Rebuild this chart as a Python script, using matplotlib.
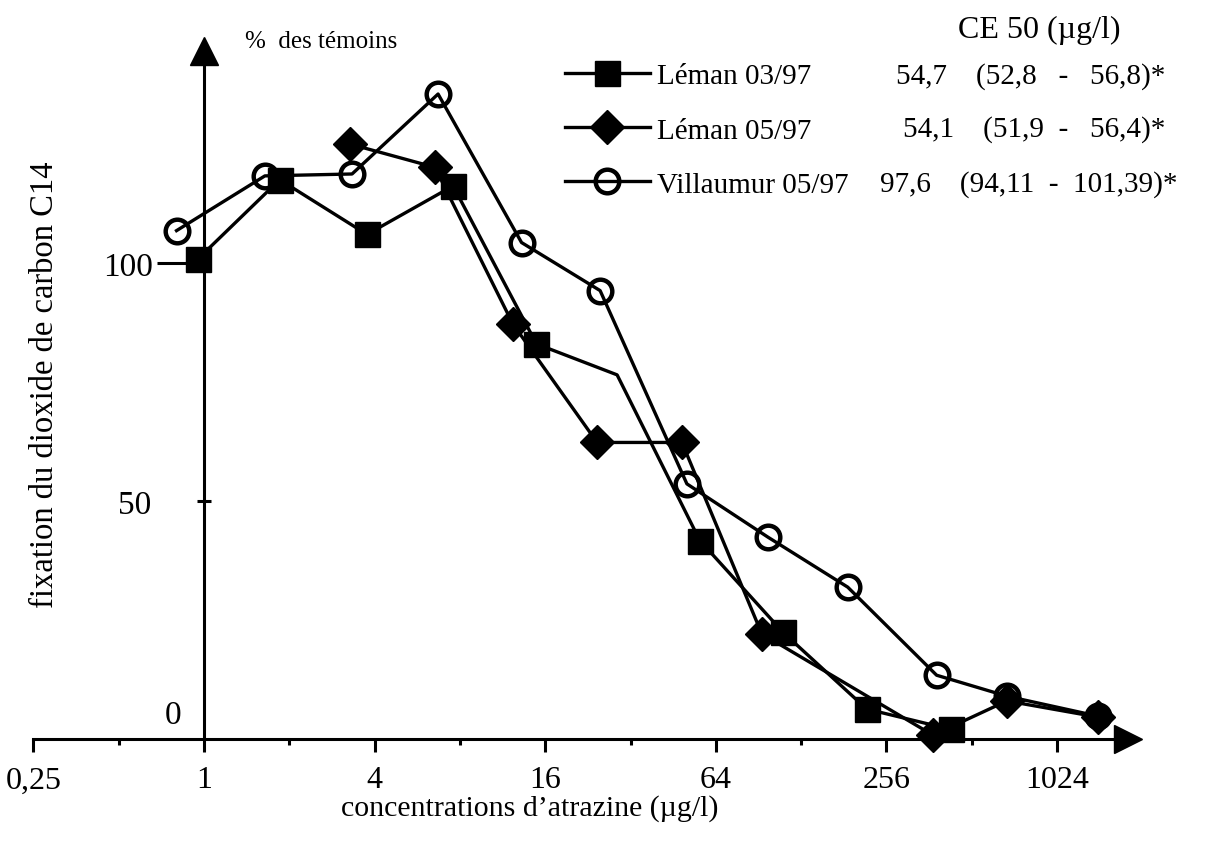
import matplotlib
matplotlib.use("Agg")
import matplotlib.pyplot as plt
from matplotlib.ticker import NullFormatter

plt.rcParams['font.family'] = ['Liberation Serif', 'DejaVu Serif']

# concentrations (ug/l) and % of control
leman_mar_x = [0.95, 1.85, 3.76, 7.57, 14.9, 28.7, 56.2, 110.6, 218, 433]
leman_mar_y = [100.8, 117.5, 106.0, 116.2, 83.0, 76.5, 41.7, 22.4, 6.3, 2.0]
leman_may_x = [3.27, 6.53, 12.3, 24.4, 48.6, 93, 374, 681, 1428]
leman_may_y = [125.0, 120.1, 87.2, 62.3, 62.3, 22.1, 0.8, 8.0, 4.6]
villa_x = [0.80, 1.64, 3.33, 6.7, 13.2, 25.0, 50.6, 97.8, 187, 385, 681, 1428]
villa_y = [106.8, 118.3, 118.7, 135.5, 104.3, 94.2, 53.6, 42.4, 31.9, 13.4, 9.0, 4.8]

labels = ['Léman 03/97', 'Léman 05/97', 'Villaumur 05/97']
ce50 = ['54,7    (52,8   -   56,8)*', '54,1    (51,9  -   56,4)*',
        '97,6    (94,11  -  101,39)*']

xticks = [0.25, 1, 4, 16, 64, 256, 1024]
xticklabels = ['0,25', '1', '4', '16', '64', '256', '1024']
xminor = [0.5, 2, 8, 32, 128, 512]

W, H = 1222, 854
fig = plt.figure(figsize=(W / 100, H / 100), dpi=100)
ax = fig.add_axes([0, 0, 1, 1])
ax.set_xscale('log', base=2)

# axes placed so that x=1 sits at 204 px and y=0 at 740 px
px_oct, px_unit = 85.3, 4.76
ax.set_xlim(2 ** (-204 / px_oct), 2 ** ((W - 204) / px_oct))
ax.set_ylim(-(H - 740) / px_unit, 740 / px_unit)

lw = 2.4
h1, = ax.plot(leman_mar_x, leman_mar_y, color='black', lw=lw, marker='s', ms=18,
              markevery=[0, 1, 2, 3, 4, 6, 7, 8, 9], label=labels[0])
h2, = ax.plot(leman_may_x, leman_may_y, color='black', lw=lw, marker='D', ms=17,
              label=labels[1])
h3, = ax.plot(villa_x, villa_y, color='black', lw=lw, marker='o', ms=17,
              mfc='none', mew=3.2, label=labels[2])
for h in (h1, h2, h3):
    h.set_clip_on(False)

# axes with arrows
for s in ['top', 'right']:
    ax.spines[s].set_visible(False)
ax.spines['left'].set_position(('data', 1))
ax.spines['bottom'].set_position(('data', 0))
ax.spines['left'].set_bounds(0, 144)
ax.spines['bottom'].set_bounds(0.25, 2 ** 10.8)
ax.spines['left'].set_linewidth(2.2)
ax.spines['bottom'].set_linewidth(2.2)
ax.plot(2 ** 10.83, 0, marker='>', ms=20, color='black', clip_on=False)
ax.plot(1, 144.5, marker='^', ms=20, color='black', clip_on=False)

ax.set_xticks(xticks, labels=xticklabels)
ax.set_xticks(xminor, minor=True)
ax.xaxis.set_minor_formatter(NullFormatter())
ax.tick_params(axis='x', which='major', direction='out', length=9, width=2.2,
               pad=10, labelsize=23)
ax.tick_params(axis='x', which='minor', direction='out', length=4, width=2.2)

ax.set_yticks([100], labels=['100'])
ax.set_yticks([50], labels=['50'], minor=True)
ax.tick_params(axis='y', which='major', direction='out', length=34, width=2.2,
               pad=3, labelsize=24)
ax.tick_params(axis='y', which='minor', direction='inout', length=10, width=2.2,
               pad=33, labelsize=24)
ax.text(0.78, 5, '0', fontsize=24, ha='center', va='center')

ax.set_xlabel('concentrations d\u2019atrazine (\u00b5g/l)', fontsize=21.5, va='center')
ax.xaxis.set_label_coords(530 / W, 1 - 809 / H)
ax.set_ylabel('fixation du dioxide de carbon C14', fontsize=23.5, va='center')
ax.yaxis.set_label_coords(45 / W, 1 - 385 / H)

fig.text(245 / W, 1 - 42 / H, '%  des témoins', fontsize=18, va='center')

ax.legend(handles=[h1, h2, h3], loc='upper left', frameon=False, fontsize=21,
          bbox_to_anchor=(565 / W, 1 - 64 / H), borderaxespad=0, borderpad=0,
          handlelength=2.9, handletextpad=0.27, labelspacing=0.95)

fig.text(958 / W, 1 - 30 / H, 'CE 50 (\u00b5g/l)', fontsize=23, va='center')
for txt, x, y in zip(ce50, [896, 903, 880], [77, 130, 185]):
    fig.text(x / W, 1 - y / H, txt, fontsize=21, va='center')

fig.savefig('out.png', dpi=100)
